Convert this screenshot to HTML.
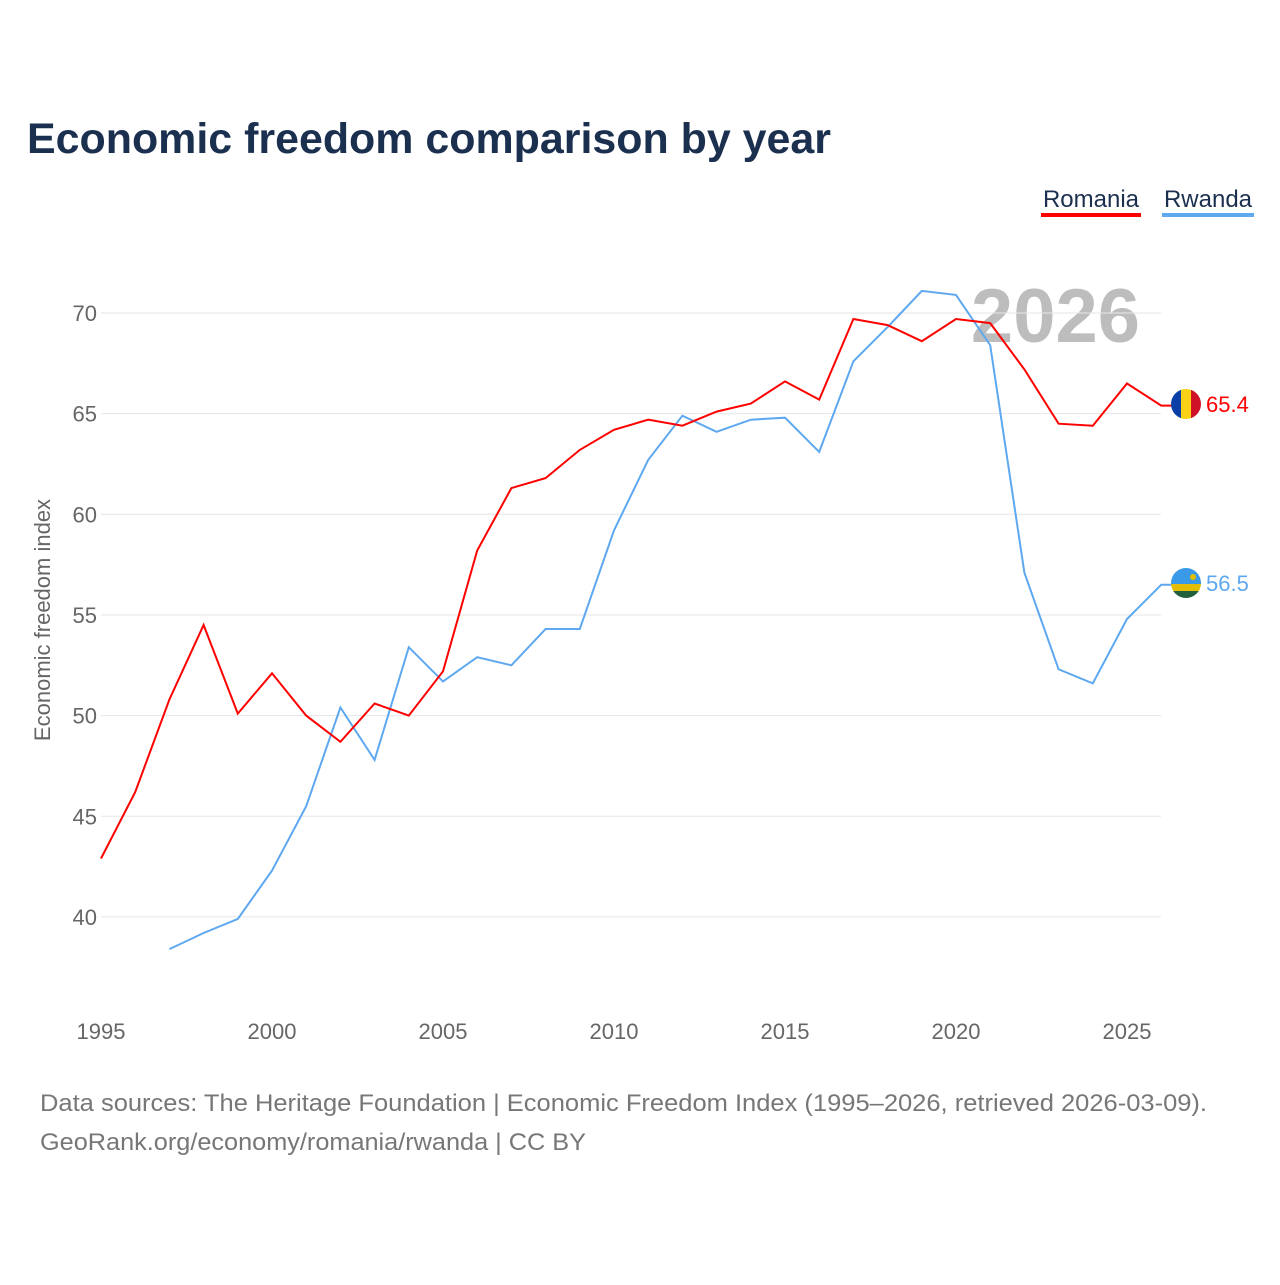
<!DOCTYPE html>
<html><head><meta charset="utf-8"><style>
body{margin:0;background:#fff;font-family:"Liberation Sans",sans-serif}
</style></head><body>
<svg width="1280" height="1280" xmlns="http://www.w3.org/2000/svg" font-family="Liberation Sans, sans-serif">
<text x="27" y="153" font-size="43" font-weight="bold" fill="#1b2f4f" textLength="804" lengthAdjust="spacingAndGlyphs">Economic freedom comparison by year</text>
<g><text x="1091" y="207" font-size="24" fill="#1b2f4f" text-anchor="middle">Romania</text><rect x="1041" y="213" width="100" height="4" fill="#ff0000"/></g>
<g><text x="1208" y="207" font-size="24" fill="#1b2f4f" text-anchor="middle">Rwanda</text><rect x="1162" y="213" width="92" height="4" fill="#5ea8f0"/></g>
<text x="1140" y="342" font-size="76" font-weight="bold" fill="#bdbdbd" text-anchor="end">2026</text>
<g id="grid"></g><g id="xt"></g><g id="lines"></g>
<text transform="translate(50,620) rotate(-90)" font-size="22" fill="#666" text-anchor="middle">Economic freedom index</text>
<g><clipPath id="c1"><circle cx="1186" cy="404" r="15"/></clipPath><g clip-path="url(#c1)"><rect x="1171" y="389" width="10" height="30" fill="#0a3fa8"/><rect x="1181" y="389" width="10" height="30" fill="#fcd116"/><rect x="1191" y="389" width="10" height="30" fill="#ce1126"/></g></g>
<g><clipPath id="c2"><circle cx="1186" cy="583" r="15"/></clipPath><g clip-path="url(#c2)"><rect x="1171" y="568" width="30" height="16" fill="#3a9ae8"/><rect x="1171" y="584" width="30" height="7" fill="#e5be01"/><rect x="1171" y="591" width="30" height="8" fill="#20603d"/><circle cx="1193" cy="577" r="3" fill="#e5be01"/></g></g>
<text x="1206" y="412" font-size="22" fill="#ff0000">65.4</text>
<text x="1206" y="591" font-size="22" fill="#5ea8f0">56.5</text>
<text x="40" y="1111" font-size="24" fill="#777" textLength="1167" lengthAdjust="spacingAndGlyphs">Data sources: The Heritage Foundation | Economic Freedom Index (1995–2026, retrieved 2026-03-09).</text>
<text x="40" y="1150" font-size="24" fill="#777" textLength="546" lengthAdjust="spacingAndGlyphs">GeoRank.org/economy/romania/rwanda | CC BY</text>
</svg>
<script>
const years=[1995,1996,1997,1998,1999,2000,2001,2002,2003,2004,2005,2006,2007,2008,2009,2010,2011,2012,2013,2014,2015,2016,2017,2018,2019,2020,2021,2022,2023,2024,2025,2026];
const romania=[42.9,46.2,50.8,54.5,50.1,52.1,50.0,48.7,50.6,50.0,52.2,58.2,61.3,61.8,63.2,64.2,64.7,64.4,65.1,65.5,66.6,65.7,69.7,69.4,68.6,69.7,69.5,67.2,64.5,64.4,66.5,65.4];
const rwanda=[null,null,38.4,39.2,39.9,42.3,45.5,50.4,47.8,53.4,51.7,52.9,52.5,54.3,54.3,59.2,62.7,64.9,64.1,64.7,64.8,63.1,67.6,69.3,71.1,70.9,68.4,57.1,52.3,51.6,54.8,56.5];
const yTicks=[40,45,50,55,60,65,70];
const xTicks=[1995,2000,2005,2010,2015,2020,2025];
const NS="http://www.w3.org/2000/svg";
const X=y=>101+(y-1995)*34.2;
const Y=v=>313+(70-v)*20.13;
function mk(t,a,p){const e=document.createElementNS(NS,t);for(const k in a)e.setAttribute(k,a[k]);p.appendChild(e);return e;}
const g=document.getElementById('grid');
yTicks.forEach(v=>{
const l=mk('line',{x1:101,x2:1161,y1:Y(v),y2:Y(v),stroke:'#e6e6e6','stroke-width':1},g);


const t=mk('text',{x:97,y:Y(v)+8,'font-size':22,fill:'#666','text-anchor':'end'},g);t.textContent=v;


});
const xt=document.getElementById('xt');
xTicks.forEach(v=>{
const t=mk('text',{x:X(v),y:1039,'font-size':22,fill:'#666','text-anchor':'middle'},xt);t.textContent=v;


});
const lg=document.getElementById('lines');
function line(arr,col,name){let d='';let s=false;let last=null;arr.forEach((v,i)=>{if(v==null){s=false;return;}d+=(s?'L':'M')+X(years[i]).toFixed(1)+','+Y(v).toFixed(1);s=true;last=v;});
d+='L1172,'+Y(last).toFixed(1);
const p=mk('path',{d:d,fill:'none',stroke:col,'stroke-width':2},lg);

}
line(rwanda,'#5ea8f0','rwanda-line');
line(romania,'#ff0000','romania-line');
</script>
</body></html>
